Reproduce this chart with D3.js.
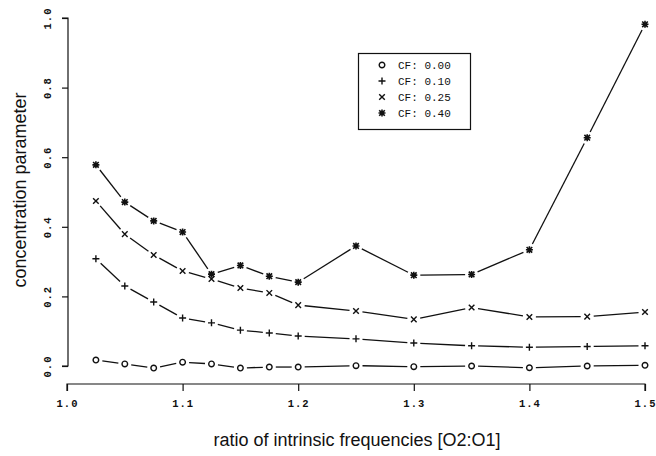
<!DOCTYPE html>
<html>
<head>
<meta charset="utf-8">
<script src="https://cdn.jsdelivr.net/npm/d3@7"></script>
<style>
  html, body { margin: 0; padding: 0; background: #fff; }
  svg { display: block; }
</style>
</head>
<body>
<svg id="chart" width="656" height="456"></svg>
<script>
// Frequency ratios (O2:O1) at which the concentration parameter was computed
const ratios = [1.025, 1.05, 1.075, 1.1, 1.125, 1.15, 1.175, 1.2, 1.25, 1.3, 1.35, 1.4, 1.45, 1.5];

// Concentration parameter for each coupling factor (CF)
const cf000 = [0.017, 0.006, -0.006, 0.011, 0.006, -0.006, -0.003, -0.003, 0.001, -0.002, 0.000, -0.005, 0.000, 0.002];
const cf010 = [0.308, 0.230, 0.184, 0.138, 0.124, 0.103, 0.095, 0.086, 0.078, 0.066, 0.058, 0.054, 0.056, 0.058];
const cf025 = [0.474, 0.379, 0.319, 0.273, 0.250, 0.224, 0.210, 0.175, 0.158, 0.134, 0.168, 0.141, 0.142, 0.155];
const cf040 = [0.578, 0.471, 0.417, 0.385, 0.264, 0.289, 0.258, 0.241, 0.345, 0.261, 0.263, 0.334, 0.656, 0.982];

const seriesNames = ["CF: 0.00", "CF: 0.10", "CF: 0.25", "CF: 0.40"];
const seriesSymbols = ["circle", "plus", "cross", "star"];
const seriesValues = [cf000, cf010, cf025, cf040];

const xTicks = [1.0, 1.1, 1.2, 1.3, 1.4, 1.5];
const yTicks = [0.0, 0.2, 0.4, 0.6, 0.8, 1.0];

const svg = d3.select("#chart");
const ink = "#111";
const monoFont = "'Liberation Mono', 'DejaVu Sans Mono', monospace";
const sansFont = "'Liberation Sans', Arial, sans-serif";

const x = d3.scaleLinear().domain([1.0, 1.5]).range([67, 645]);
const y = d3.scaleLinear().domain([0, 1]).range([366, 18]);

// x axis, drawn below the plotting region
const xAxis = svg.append("g")
  .attr("transform", "translate(0,384)")
  .call(d3.axisBottom(x).tickValues(xTicks).tickFormat(d3.format(".1f")).tickSize(7).tickPadding(9));
xAxis.select(".domain").attr("stroke", ink).attr("stroke-width", 1.2).attr("d", "M67,7V0H645V7");
xAxis.selectAll(".tick line").attr("stroke", ink).attr("stroke-width", 1.2);
xAxis.selectAll(".tick text")
  .attr("font-family", monoFont)
  .attr("font-size", 10.5).attr("font-weight", "bold").attr("letter-spacing", 1)
  .attr("fill", ink);

// y axis with rotated tick labels
const yAxis = svg.append("g")
  .attr("transform", "translate(68,0)")
  .call(d3.axisLeft(y).tickValues(yTicks).tickFormat(d3.format(".1f")).tickSize(6));
yAxis.select(".domain").attr("stroke", ink).attr("stroke-width", 1.2).attr("d", "M-6,366H0V18H-6");
yAxis.selectAll(".tick line").attr("stroke", ink).attr("stroke-width", 1.2);
yAxis.selectAll(".tick text")
  .attr("font-family", monoFont)
  .attr("font-size", 10.5).attr("font-weight", "bold").attr("letter-spacing", 1)
  .attr("fill", ink)
  .attr("text-anchor", "middle")
  .attr("x", 0).attr("dy", 0)
  .attr("transform", "translate(-17,0) rotate(-90)");

// axis titles
svg.append("text")
  .attr("x", 357).attr("y", 446)
  .attr("text-anchor", "middle")
  .attr("font-family", sansFont)
  .attr("font-size", 18).attr("fill", ink)
  .text("ratio of intrinsic frequencies [O2:O1]");

svg.append("text")
  .attr("transform", "translate(26,190) rotate(-90)")
  .attr("text-anchor", "middle")
  .attr("font-family", sansFont)
  .attr("font-size", 18).attr("fill", ink)
  .text("concentration parameter");

// plotting symbols
function drawSymbol(g, kind, cx, cy) {
  const s = g.append("g").attr("transform", `translate(${cx},${cy})`)
    .attr("stroke", ink).attr("fill", "none").attr("stroke-width", 1.4);
  if (kind === "circle") {
    s.append("circle").attr("r", 2.8);
  } else if (kind === "plus") {
    s.append("path").attr("d", "M-3.5,0H3.5M0,-3.5V3.5");
  } else if (kind === "cross") {
    s.append("path").attr("d", "M-2.8,-2.8L2.8,2.8M-2.8,2.8L2.8,-2.8");
  } else {
    s.append("path").attr("d", "M-2.8,-2.8L2.8,2.8M-2.8,2.8L2.8,-2.8M-3.5,0H3.5M0,-3.5V3.5")
      .attr("stroke-width", 1.6);
  }
}

// lines broken around each point, then the points themselves
const gap = 6.5;
const plot = svg.append("g");
seriesValues.forEach((vals, si) => {
  const pts = ratios.map((r, i) => [x(r), y(vals[i])]);
  for (let i = 0; i < pts.length - 1; i++) {
    const [x0, y0] = pts[i], [x1, y1] = pts[i + 1];
    const dx = x1 - x0, dy = y1 - y0, len = Math.hypot(dx, dy);
    if (len <= 2 * gap) continue;
    const ux = dx / len, uy = dy / len;
    plot.append("line")
      .attr("x1", x0 + ux * gap).attr("y1", y0 + uy * gap)
      .attr("x2", x1 - ux * gap).attr("y2", y1 - uy * gap)
      .attr("stroke", ink).attr("stroke-width", 1.3);
  }
  pts.forEach(([px, py]) => drawSymbol(plot, seriesSymbols[si], px, py));
});

// legend
const legend = svg.append("g");
legend.append("rect")
  .attr("x", 358.5).attr("y", 53.5).attr("width", 112).attr("height", 76)
  .attr("fill", "#fff").attr("stroke", ink).attr("stroke-width", 1.2);
const rowY = d3.scaleLinear().domain([0, 3]).range([65, 113]);
seriesNames.forEach((name, i) => {
  drawSymbol(legend, seriesSymbols[i], 382, rowY(i));
  legend.append("text")
    .attr("x", 398).attr("y", rowY(i) + 4)
    .attr("font-family", monoFont)
    .attr("font-size", 11).attr("fill", ink)
    .text(name);
});
</script>
</body>
</html>
